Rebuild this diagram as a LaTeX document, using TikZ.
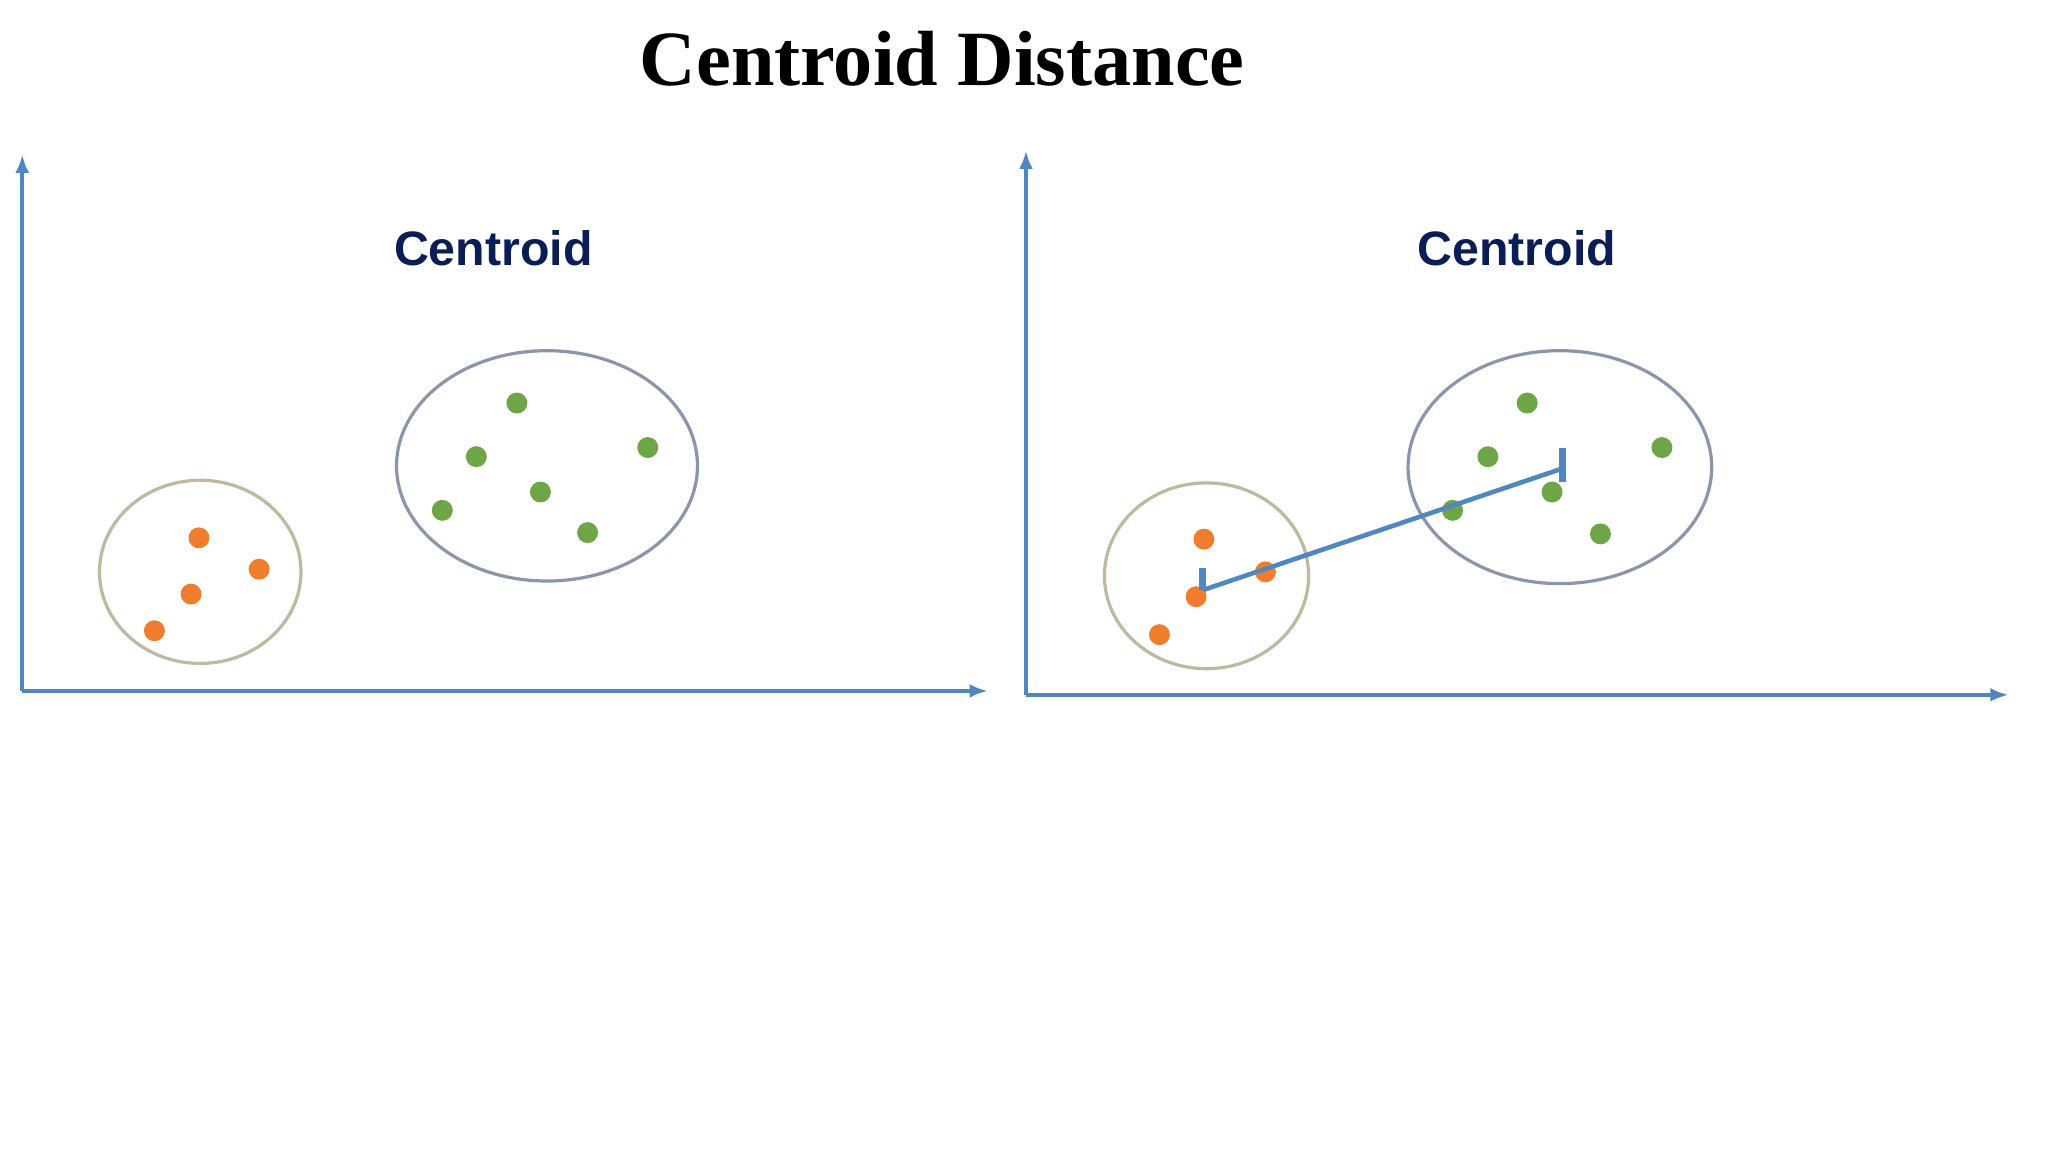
\documentclass[tikz,border=0pt]{standalone}
\usepackage{fontspec}
\setmainfont{Liberation Serif}
\newfontfamily\lab{Liberation Sans}
\begin{document}
\begin{tikzpicture}[x=0.01cm,y=-0.01cm,
  axis/.style={draw=axblue,line width=0.8pt,-{Latex[length=4pt,width=3pt]}},
  od/.style={circle,fill=dotorange,inner sep=0pt,minimum size=0.16cm},
  gd/.style={circle,fill=dotgreen,inner sep=0pt,minimum size=0.16cm},
  lbl/.style={font=\lab\bfseries\fontsize{10.5}{12}\selectfont,text=navy}]
\usetikzlibrary{arrows.meta}
\definecolor{axblue}{RGB}{80,135,190}
\definecolor{dotorange}{RGB}{240,125,45}
\definecolor{dotgreen}{RGB}{110,165,70}
\definecolor{navy}{RGB}{10,30,85}
\definecolor{ellA}{RGB}{190,185,160}
\definecolor{ellB}{RGB}{140,150,170}
\useasboundingbox (0,0) rectangle (1565,880);
\node (title) at (720,45) {\bfseries\fontsize{17}{20}\selectfont Centroid Distance};
% left panel
\coordinate (o1) at (17,528);
\coordinate (y1) at (17,118);
\coordinate (x1) at (755,528);
\draw[axis] (o1) -- (y1);
\draw[axis] (o1) -- (x1);
\node[lbl] (c1) at (377,190) {Centroid};
\draw[ellA,line width=0.7pt] (153,437) ellipse [x radius=77,y radius=70];
\draw[ellB,line width=0.7pt] (418,356) ellipse [x radius=115,y radius=88];
\node[od] (a1) at (152,411) {};
\node[od] (a2) at (198,435) {};
\node[od] (a3) at (146,454) {};
\node[od] (a4) at (118,482) {};
\node[gd] (b1) at (395,308) {};
\node[gd] (b2) at (364,349) {};
\node[gd] (b3) at (495,342) {};
\node[gd] (b4) at (413,376) {};
\node[gd] (b5) at (338,390) {};
\node[gd] (b6) at (449,407) {};
% right panel
\coordinate (o2) at (784,531);
\coordinate (y2) at (784,115);
\coordinate (x2) at (1535,531);
\draw[axis] (o2) -- (y2);
\draw[axis] (o2) -- (x2);
\node[lbl] (c2) at (1159,190) {Centroid};
\draw[ellA,line width=0.7pt] (922,440) ellipse [x radius=78,y radius=71];
\draw[ellB,line width=0.7pt] (1192,357) ellipse [x radius=116,y radius=89];
\node[od] (p1) at (920,412) {};
\node[od] (p2) at (967,437) {};
\node[od] (p3) at (914,456) {};
\node[od] (p4) at (886,485) {};
\node[gd] (q1) at (1167,308) {};
\node[gd] (q2) at (1137,349) {};
\node[gd] (q3) at (1270,342) {};
\node[gd] (q4) at (1186,376) {};
\node[gd] (q5) at (1110,390) {};
\node[gd] (q6) at (1223,408) {};
\coordinate (cA) at (919,451);
\coordinate (cB) at (1194,358);
\coordinate (tA) at (919,434);
\coordinate (tB1) at (1194,342);
\coordinate (tB2) at (1194,368);
\draw[axblue,line width=1pt] (cA) -- (cB);
\draw[axblue,line width=1.4pt] (tA) -- (cA);
\draw[axblue,line width=1.4pt] (tB1) -- (tB2);
\end{tikzpicture}
\end{document}
